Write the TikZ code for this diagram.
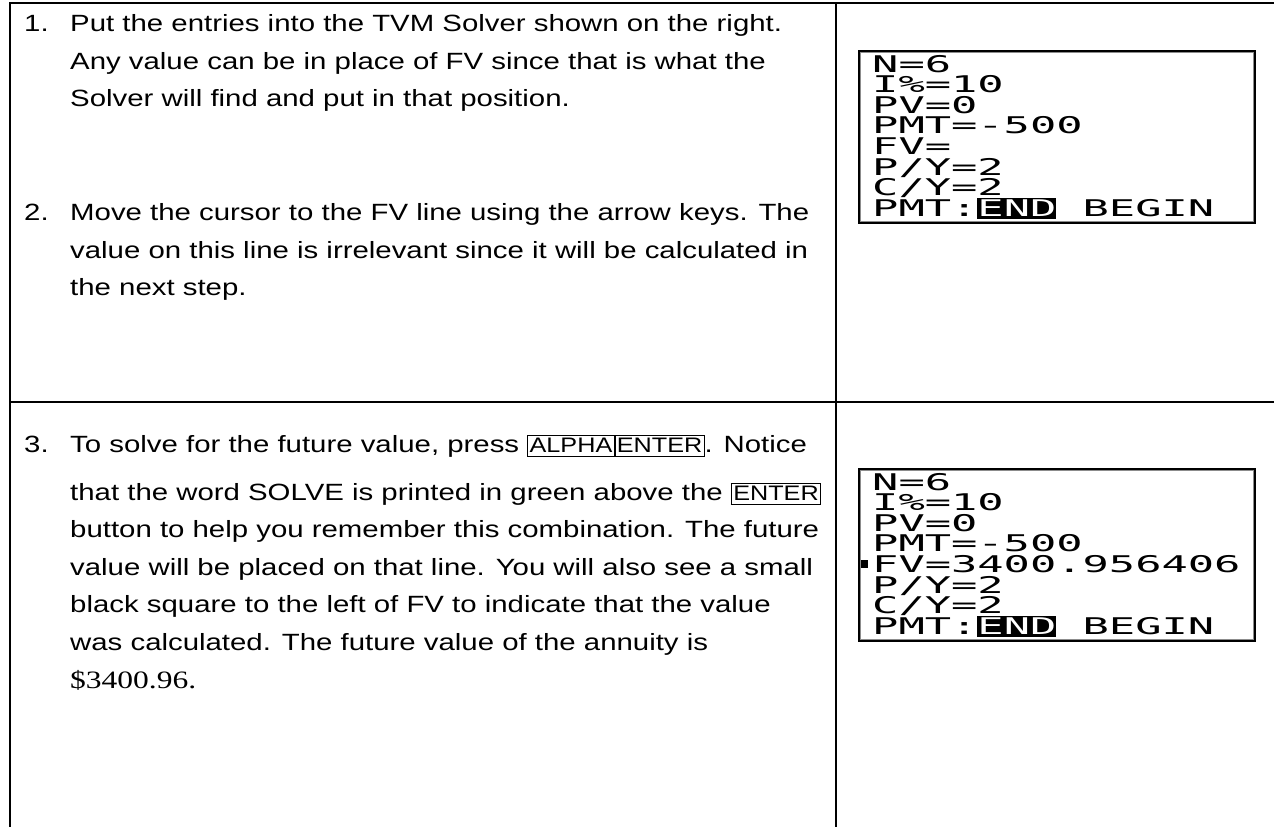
\documentclass[tikz,border=0pt]{standalone}
\usepackage{fontspec}
\setmainfont{Liberation Sans}[FakeStretch=1.25]
\newfontfamily\keyfont{Liberation Sans}[FakeStretch=1.2]
\newfontfamily\numserif{Liberation Serif}[FakeStretch=1.26]
\newfontfamily\calcfont{DejaVu Sans Mono}[FakeStretch=1.9]
\newcommand{\bodyfont}{\fontsize{23.5}{37.6}\selectfont}
\newcommand{\tikey}[1]{{\setlength{\fboxsep}{1.2pt}\setlength{\fboxrule}{1.1pt}\fbox{\keyfont\fontsize{21}{21}\selectfont\rule[-3pt]{0pt}{18pt}#1}}}
\newcommand{\invtxt}[1]{{\setlength{\fboxsep}{0pt}\colorbox{black}{\rule[-2.6pt]{0pt}{20.6pt}\color{white}#1}}}
\begin{document}
\begin{tikzpicture}[x=1pt,y=-1pt,
  rule/.style={line width=2.5pt, black},
  txt/.style={anchor=base west, inner sep=0pt, font=\bodyfont},
  calc/.style={anchor=base west, inner sep=0pt, text height=16pt, text depth=1pt, font={\calcfont\fontsize{23}{23}\selectfont}},
  screen/.style={draw=black, line width=3pt, fill=white, inner sep=0pt, anchor=north west, minimum width=395pt, minimum height=171pt},
  inner/.style={draw=black!45, line width=0.8pt}]
\useasboundingbox (0,0) rectangle (1274,827);
% table rules
\coordinate (tl) at (10,3);
\coordinate (tr) at (1274,3);
\coordinate (bl) at (10,827);
\coordinate (ct) at (836,3);
\coordinate (cb) at (836,827);
\coordinate (ml) at (10,402);
\coordinate (mr) at (1274,402);
\draw[rule] (tr) -- (tl) -- (bl);
\draw[rule] (ct) -- (cb);
\draw[rule] (ml) -- (mr);
% row 1 text
\node[txt] (n1) at (24,31) {1.};
\node[txt] (l1a) at (70,31) {Put the entries into the TVM Solver shown on the right.};
\node[txt] (l1b) at (70,69) {Any value can be in place of FV since that is what the};
\node[txt] (l1c) at (70,106) {Solver will find and put in that position.};
\node[txt] (n2) at (24,220) {2.};
\node[txt] (l2a) at (70,220) {Move the cursor to the FV line using the arrow keys. The};
\node[txt] (l2b) at (70,258) {value on this line is irrelevant since it will be calculated in};
\node[txt] (l2c) at (70,295) {the next step.};
% row 2 text
\node[txt] (n3) at (24,452) {3.};
\node[txt] (l3a) at (70,452) {To solve for the future value, press \tikey{ALPHA}\tikey{ENTER}. Notice};
\node[txt] (l3b) at (70,500) {that the word SOLVE is printed in green above the \tikey{ENTER}};
\node[txt] (l3c) at (70,537) {button to help you remember this combination. The future};
\node[txt] (l3d) at (70,575) {value will be placed on that line. You will also see a small};
\node[txt] (l3e) at (70,612) {black square to the left of FV to indicate that the value};
\node[txt] (l3f) at (70,650) {was calculated. The future value of the annuity is};
\node[txt] (l3g) at (70,688) {{\numserif\fontsize{25}{37.6}\selectfont\$3400.96.}};
% screen 1
\node[screen] (s1) at (858,50) {};
\draw[inner] ([shift={(2.5,2.5)}]s1.north west) rectangle ([shift={(-2.5,-2.5)}]s1.south east);
\node[calc] (s1r1) at (872,72) {N=6};
\node[calc] (s1r2) at (872,92.6) {I\%=10};
\node[calc] (s1r3) at (872,113.2) {PV=0};
\node[calc] (s1r4) at (872,133.8) {PMT=-500};
\node[calc] (s1r5) at (872,154.4) {FV=};
\node[calc] (s1r6) at (872,175) {P/Y=2};
\node[calc] (s1r7) at (872,195.6) {C/Y=2};
\node[calc] (s1r8) at (872,216.2) {PMT:\invtxt{END} BEGIN};
% screen 2
\node[screen] (s2) at (858,468) {};
\draw[inner] ([shift={(2.5,2.5)}]s2.north west) rectangle ([shift={(-2.5,-2.5)}]s2.south east);
\node[calc] (s2r1) at (872,490) {N=6};
\node[calc] (s2r2) at (872,510.6) {I\%=10};
\node[calc] (s2r3) at (872,531.2) {PV=0};
\node[calc] (s2r4) at (872,551.8) {PMT=-500};
\node[calc] (s2r5) at (872,572.4) {FV=3400.956406};
\node[fill=black, inner sep=0pt, minimum width=7pt, minimum height=8pt] (sq) at (864,564) {};
\node[calc] (s2r6) at (872,593) {P/Y=2};
\node[calc] (s2r7) at (872,613.6) {C/Y=2};
\node[calc] (s2r8) at (872,634.2) {PMT:\invtxt{END} BEGIN};
\end{tikzpicture}
\end{document}
